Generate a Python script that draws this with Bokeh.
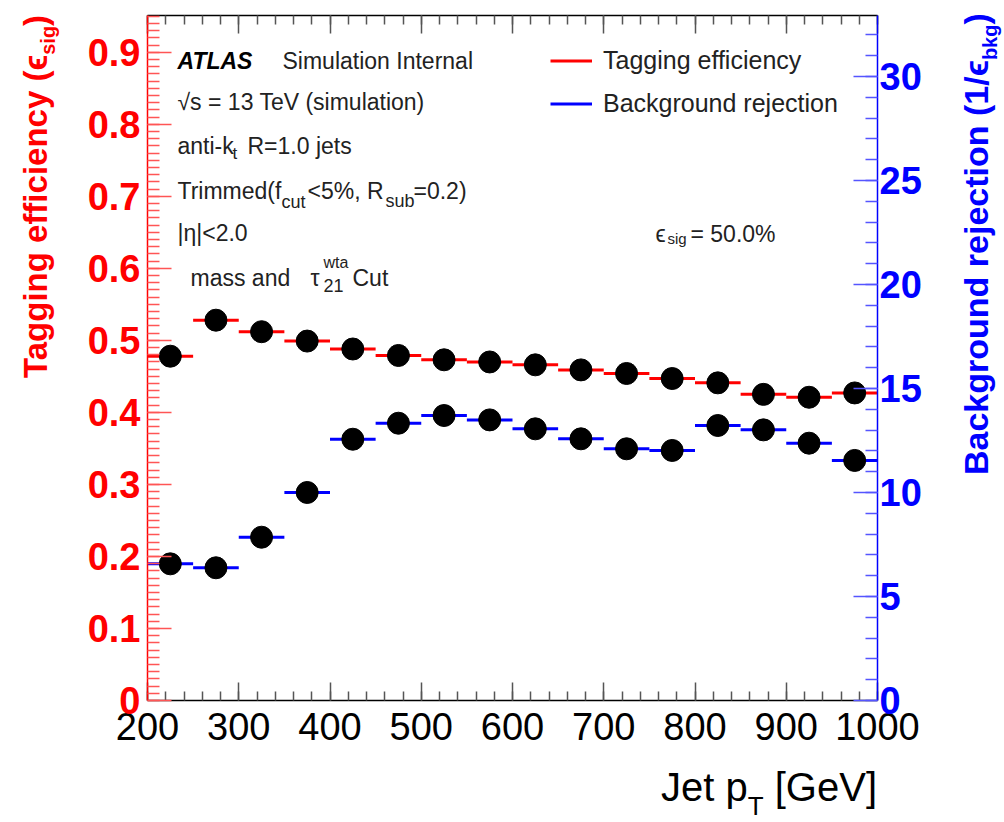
from bokeh.plotting import figure
from bokeh.layouts import row, column
from bokeh.models import (Range1d, LinearAxis, FixedTicker, NumeralTickFormatter,
                          CustomJSTickFormatter, Label, Legend, LegendItem,
                          ColumnDataSource, Div)
from bokeh.embed import file_html
from bokeh.resources import INLINE

# Jet pT bin edges [GeV]
pt_edges = [200, 250, 300, 350, 400, 450, 500, 550, 600, 650,
            700, 750, 800, 850, 900, 950, 1000]
# Signal tagging efficiency per pT bin (left axis)
tag_eff = [0.478, 0.528, 0.512, 0.499, 0.488, 0.479, 0.473, 0.470,
           0.466, 0.459, 0.454, 0.447, 0.441, 0.425, 0.421, 0.427]
# Background rejection 1/eps_bkg per pT bin (right axis)
bkg_rej = [6.57, 6.38, 7.85, 10.0, 12.56, 13.33, 13.70, 13.49,
           13.06, 12.58, 12.10, 12.02, 13.22, 13.01, 12.37, 11.54]

# axis tick values
x_ticks = list(range(200, 1001, 100))
x_minor = list(range(200, 1001, 20))
eff_ticks = [round(0.1 * i, 1) for i in range(10)]
eff_minor = [round(0.01 * i, 2) for i in range(96)]
rej_ticks = list(range(0, 31, 5))
rej_minor = list(range(0, 33))

FONT = "Liberation Sans"
PAGE_W, PAGE_H = 1004, 822
# page-pixel geometry of the data frame
FRAME_L, FRAME_R, FRAME_T, FRAME_B = 147, 877, 15, 700
# side strips holding the axis titles
LEFT_W, RIGHT_W, BOTTOM_H = 80, 49, 62
FIG_W = PAGE_W - LEFT_W - RIGHT_W
FIG_H = PAGE_H - BOTTOM_H
X0, X1 = 200, 1000
EFF_MAX = 0.951
REJ_MAX = 32.93
RED = "#ff0000"
BLUE = "#0000ff"

p = figure(width=FIG_W, height=FIG_H, x_range=Range1d(X0, X1), y_range=Range1d(0, EFF_MAX),
           output_backend="svg", toolbar_location=None,
           min_border_left=FRAME_L - LEFT_W,
           min_border_right=LEFT_W + FIG_W - FRAME_R,
           min_border_top=FRAME_T, min_border_bottom=FIG_H - FRAME_B,
           x_axis_location=None, y_axis_location=None)
p.extra_y_ranges = {"rej": Range1d(0, REJ_MAX)}
p.grid.visible = False
p.outline_line_color = "black"
p.outline_line_width = 1
p.background_fill_color = "white"
p.border_fill_color = "white"


def make_axis(ticks, minor, line_color, tick_color, major_in, minor_in,
              label_color, label_size, label_style, standoff, **kw):
    ax = LinearAxis(ticker=FixedTicker(ticks=ticks, minor_ticks=minor), **kw)
    ax.axis_line_color = line_color
    ax.axis_line_width = 1.5
    ax.major_tick_line_color = tick_color
    ax.minor_tick_line_color = tick_color
    ax.major_tick_line_width = 1.5
    ax.minor_tick_line_width = 1.5
    ax.major_tick_in = major_in
    ax.major_tick_out = 0
    ax.minor_tick_in = minor_in
    ax.minor_tick_out = 0
    ax.major_label_text_font = FONT
    ax.major_label_text_color = label_color
    ax.major_label_text_font_size = label_size
    ax.major_label_text_font_style = label_style
    ax.major_label_standoff = standoff
    return ax


bottom = make_axis(x_ticks, x_minor, "black", "#555555", 18, 9,
                   "black", "38px", "normal", 12)
top = make_axis(x_ticks, x_minor, "black", "#555555", 18, 9,
                "black", "10px", "normal", 0)
top.formatter = CustomJSTickFormatter(code="return ''")
left = make_axis(eff_ticks, eff_minor, RED, "#ff5555", 24, 12,
                 RED, "38px", "bold", 7)
left.formatter = NumeralTickFormatter(format="0.[0]")
right = make_axis(rej_ticks, rej_minor, BLUE, "#5555ff", 24, 12,
                  BLUE, "38px", "bold", 2, y_range_name="rej")

p.add_layout(bottom, "below")
p.add_layout(top, "above")
p.add_layout(left, "left")
p.add_layout(right, "right")

centers = [(a + b) / 2 for a, b in zip(pt_edges[:-1], pt_edges[1:])]
src_eff = ColumnDataSource(dict(x0=pt_edges[:-1], x1=pt_edges[1:], xc=centers, y=tag_eff))
src_rej = ColumnDataSource(dict(x0=pt_edges[:-1], x1=pt_edges[1:], xc=centers, y=bkg_rej))

r_eff = p.segment(x0="x0", y0="y", x1="x1", y1="y", source=src_eff,
                  line_color=RED, line_width=3)
r_rej = p.segment(x0="x0", y0="y", x1="x1", y1="y", source=src_rej,
                  line_color=BLUE, line_width=3, y_range_name="rej")
p.scatter(x="xc", y="y", source=src_eff, size=22, color="black")
p.scatter(x="xc", y="y", source=src_rej, size=22, color="black", y_range_name="rej")

legend = Legend(items=[LegendItem(label="Tagging efficiency", renderers=[r_eff]),
                       LegendItem(label="Background rejection", renderers=[r_rej])],
                location=(403, 582), orientation="vertical",
                border_line_alpha=0, background_fill_alpha=0,
                label_text_font=FONT, label_text_font_size="25px",
                label_text_color="#222222",
                glyph_width=42, glyph_height=25, label_height=25,
                label_standoff=11, spacing=14, padding=0, margin=0)
p.add_layout(legend)


def px_to_x(px):
    return X0 + (px - FRAME_L) * (X1 - X0) / (FRAME_R - FRAME_L)


def py_to_y(py):
    return (FRAME_B - py) * EFF_MAX / (FRAME_B - FRAME_T)


def put(px, py, text, size, color="#222222", style="normal"):
    p.add_layout(Label(x=px_to_x(px), y=py_to_y(py), text=text,
                       text_font=FONT, text_font_size=f"{size}px",
                       text_color=color, text_font_style=style,
                       text_align="left", text_baseline="alphabetic"))


# ATLAS caption block
put(177, 60, "ATLAS", 23, "black", "bold italic")
put(282, 60, "Simulation Internal", 23)
put(177, 101, "√s = 13 TeV (simulation)", 23)
put(177, 145, "anti-k", 23)
put(232, 153, "t", 17)
put(247, 145, "R=1.0 jets", 23)
put(177, 190, "Trimmed(f", 23)
put(281, 201, "cut", 18)
put(307, 190, "<5%, R", 23)
put(385, 200, "sub", 18)
put(413, 190, "=0.2)", 23)
put(177, 232, "|η|<2.0", 23)
put(190, 277, "mass and", 23)
put(310, 277, "τ", 23)
put(323, 262, "wta", 16)
put(323, 285, "21", 18)
put(352, 277, "Cut", 23)

# working point
put(655, 233, "ϵ", 23)
put(667, 238, "sig", 15)
put(690, 233, "= 50.0%", 23)


def sub(text, size, shift):
    return (f'<span style="font-size:{size}px;line-height:0;position:relative;'
            f'top:{shift}px">{text}</span>')


def rotated_title(left, top, size, color, body):
    # text reads bottom-to-top; (left, top) is the start of the line box
    return (f'<div style="position:absolute;left:{left}px;top:{top}px;'
            f'transform-origin:0 0;transform:rotate(-90deg);white-space:nowrap;'
            f"font-family:'{FONT}';font-weight:bold;font-size:{size}px;"
            f'line-height:{size}px;color:{color}">{body}</div>')


def strip(w, h, inner):
    return (f'<div style="position:relative;width:{w}px;height:{h}px;'
            f'overflow:visible">{inner}</div>')


left_div = Div(width=LEFT_W, height=FIG_H, margin=0, text=strip(
    LEFT_W, FIG_H,
    rotated_title(19, 378, 33, RED,
                  "Tagging efficiency (ϵ" + sub("sig", 20, 8) + ")")))

right_x0 = LEFT_W + FIG_W
right_div = Div(width=RIGHT_W, height=FIG_H, margin=0, text=strip(
    RIGHT_W, FIG_H,
    rotated_title(988 - right_x0 - 29, 475, 34, BLUE,
                  "Background rejection (1/ϵ" + sub("bkg", 20, 9) + ")")))

bottom_div = Div(width=PAGE_W, height=BOTTOM_H, margin=0, text=strip(
    PAGE_W, BOTTOM_H,
    f'<div style="position:absolute;right:{PAGE_W - FRAME_R}px;top:7px;'
    f"white-space:nowrap;font-family:'{FONT}';font-size:40px;line-height:40px;"
    f'color:black">Jet p' + sub("T", 26, 14) + ' [GeV]</div>'))

layout = column(row(left_div, p, right_div, spacing=0), bottom_div, spacing=0)

open("out.html", "w").write(file_html(layout, INLINE))
